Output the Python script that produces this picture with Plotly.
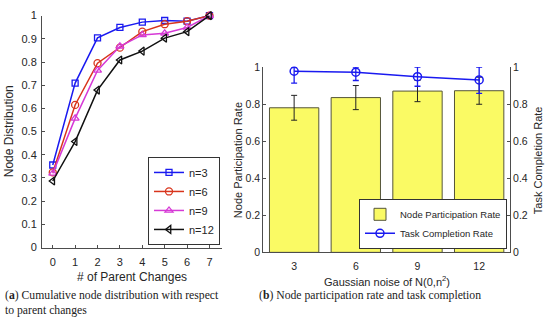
import plotly.graph_objects as go

# ---------------- data ----------------
parent_changes = [0, 1, 2, 3, 4, 5, 6, 7]
n3 = [0.356, 0.709, 0.904, 0.949, 0.972, 0.979, 0.976, 1.0]
n6 = [0.324, 0.615, 0.795, 0.862, 0.931, 0.963, 0.976, 1.0]
n9 = [0.320, 0.557, 0.764, 0.868, 0.917, 0.924, 0.949, 1.0]
n12 = [0.287, 0.457, 0.679, 0.809, 0.847, 0.903, 0.931, 1.0]

noise_levels = ["3", "6", "9", "12"]
participation = [0.780, 0.835, 0.870, 0.872]
participation_err = [0.067, 0.065, 0.057, 0.073]
completion = [0.977, 0.972, 0.948, 0.930]
completion_err_plus = [0.023, 0.028, 0.052, 0.070]
completion_err_minus = [0.064, 0.045, 0.052, 0.072]

W, H = 550, 329
FONT = "Liberation Sans, Arial, sans-serif"
AX = "#4d4d4d"
TXT = "#262626"

fig = go.Figure()

series = [
    ("n=3", n3, "#1a1af0", "square-open", 6),
    ("n=6", n6, "#d8341c", "circle-open", 7),
    ("n=9", n9, "#d63ad6", "triangle-up-open", 7),
    ("n=12", n12, "#111111", "triangle-left-open", 7),
]
for name, ys, col, sym, sz in series:
    fig.add_trace(go.Scatter(
        x=parent_changes, y=ys, name=name, mode="lines+markers",
        line=dict(color=col, width=1.5),
        marker=dict(symbol=sym, size=sz, color=col, line=dict(width=1.3, color=col)),
        xaxis="x", yaxis="y", legend="legend", cliponaxis=False,
    ))

fig.add_trace(go.Bar(
    x=noise_levels, y=participation, name="Node Participation Rate",
    marker=dict(color="#fafa64", line=dict(color="#55553a", width=1)),
    width=0.8,
    error_y=dict(type="data", array=participation_err, color="#222222", thickness=1, width=3),
    xaxis="x2", yaxis="y2", legend="legend2",
))
fig.add_trace(go.Scatter(
    x=noise_levels, y=completion, name="Task Completion Rate", mode="lines+markers",
    line=dict(color="#1a1af0", width=1.5),
    marker=dict(symbol="circle-open", size=8, color="#1a1af0", line=dict(width=1.5, color="#1a1af0")),
    error_y=dict(type="data", symmetric=False, array=completion_err_plus,
                 arrayminus=completion_err_minus, color="#1a1af0", thickness=1.3, width=3),
    xaxis="x2", yaxis="y3", legend="legend2", cliponaxis=False,
))

def px_x(p):
    return p / W

def px_y(p):
    return 1 - p / H

axis_common = dict(showgrid=False, zeroline=False, showline=True, linecolor=AX, linewidth=1,
                   ticks="inside", ticklen=3, tickcolor=AX, tickfont=dict(family=FONT, size=11, color=TXT))
small_font = dict(family=FONT, size=10.5, color=TXT)

fig.update_layout(
    width=W, height=H, margin=dict(l=0, r=0, t=0, b=0),
    paper_bgcolor="white", plot_bgcolor="white",
    font=dict(family=FONT, color=TXT),
    xaxis=dict(domain=[px_x(42), px_x(222)], range=[-0.48, 7.56], tickvals=parent_changes,
               anchor="y", ticklabelstandoff=4, **axis_common),
    yaxis=dict(domain=[px_y(250.7), px_y(10)], range=[0, 1], dtick=0.1, tick0=0,
               anchor="x", ticklabelstandoff=2, **axis_common),
    xaxis2=dict(domain=[px_x(263.3), px_x(510)], range=[-0.5, 3.5], type="category",
                anchor="y2", ticklabelstandoff=4, **{**axis_common, "ticks": "", "tickfont": small_font}),
    yaxis2=dict(domain=[px_y(255.7), px_y(63.3)], range=[0, 1], dtick=0.2, tick0=0,
                anchor="x2", **{**axis_common, "tickfont": small_font}),
    yaxis3=dict(range=[0, 1], dtick=0.2, tick0=0, overlaying="y2", side="right",
                anchor="x2", **{**axis_common, "tickfont": small_font}),
    legend=dict(x=px_x(148), y=px_y(248), xanchor="left", yanchor="bottom",
                bgcolor="white", bordercolor="#333333", borderwidth=1,
                font=dict(family=FONT, size=11, color=TXT), itemwidth=30,
                tracegroupgap=0),
    legend2=dict(x=px_x(507), y=px_y(252), xanchor="right", yanchor="bottom",
                 bgcolor="white", bordercolor="#333333", borderwidth=1,
                 font=dict(family=FONT, size=9.5, color=TXT), itemwidth=30,
                 tracegroupgap=0),
    bargap=0.2,
)

ann = [
    dict(text="Node Distribution", x=px_x(9), y=px_y(130), textangle=-90, size=12),
    dict(text="# of Parent Changes", x=px_x(132), y=px_y(281), size=12),
    dict(text="Node Participation Rate", x=px_x(238), y=px_y(160), textangle=-90, size=11),
    dict(text="Task Completion Rate", x=px_x(538), y=px_y(160), textangle=-90, size=11),
    dict(text="Gaussian noise of N(0,n<sup>2</sup>)", x=px_x(387), y=px_y(285), size=11),
]
for a in ann:
    fig.add_annotation(xref="paper", yref="paper", showarrow=False,
                       xanchor="center", yanchor="middle",
                       font=dict(family=FONT, color=TXT, size=a["size"]),
                       text=a["text"], x=a["x"], y=a["y"], textangle=a.get("textangle", 0))

SERIF = "Liberation Serif, DejaVu Serif, serif"
fig.add_annotation(xref="paper", yref="paper", showarrow=False, xanchor="left", yanchor="top",
                   align="left", x=px_x(3), y=px_y(292),
                   text="(<b>a</b>) Cumulative node distribution with respect<br>to parent changes",
                   font=dict(family=SERIF, size=11.7, color="#222222"))
fig.add_annotation(xref="paper", yref="paper", showarrow=False, xanchor="left", yanchor="top",
                   align="left", x=px_x(257), y=px_y(292),
                   text="(<b>b</b>) Node participation rate and task completion",
                   font=dict(family=SERIF, size=11.7, color="#222222"))

fig.write_html("out.html", config={"displayModeBar": False},
               post_script="document.body.style.margin='0';document.body.style.overflow='hidden';")
